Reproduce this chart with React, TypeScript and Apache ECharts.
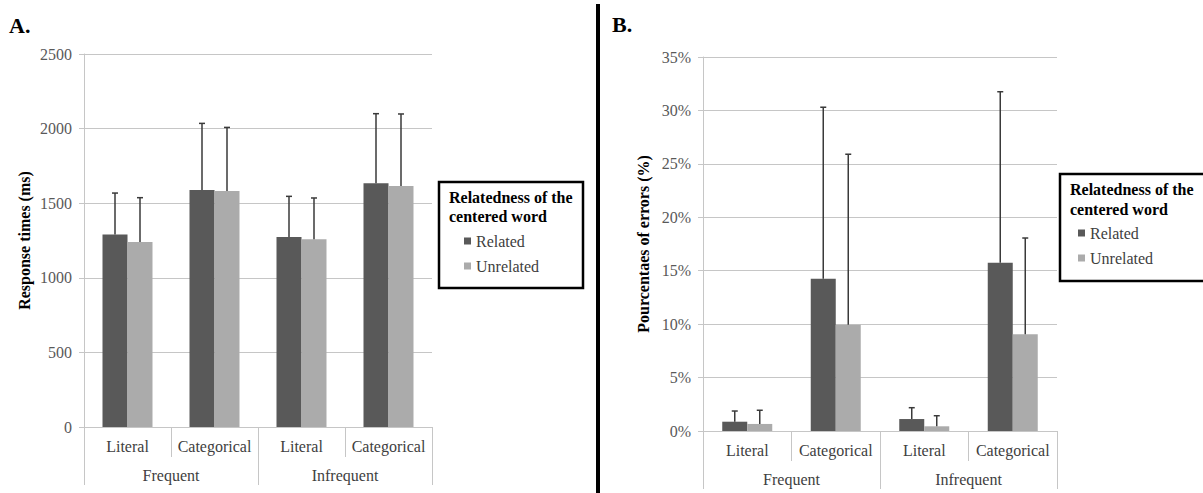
import React, { useEffect, useRef } from "react";
import * as echarts from "echarts";

const categories = ["Literal", "Categorical", "Literal", "Categorical"];
const groups = ["Frequent", "Infrequent"];
const seriesNames = ["Related", "Unrelated"];

// Panel A: response times (ms)
const rtRelated = [1291, 1588, 1273, 1633];
const rtUnrelated = [1240, 1582, 1258, 1615];
const rtRelatedErrTop = [1568, 2035, 1546, 2100];
const rtUnrelatedErrTop = [1537, 2008, 1535, 2098];

// Panel B: percentage of errors (%)
const errRelated = [0.87, 14.25, 1.12, 15.75];
const errUnrelated = [0.66, 9.95, 0.44, 9.05];
const errRelatedErrTop = [1.87, 30.3, 2.18, 31.75];
const errUnrelatedErrTop = [1.94, 25.9, 1.43, 18.06];

const SERIF = "Liberation Serif";
const DARK = "#595959";
const LIGHT = "#ababab";
const GRID = "#c6c6c6";
const TXT = "#404040";

export default function App() {
  const ref = useRef<HTMLDivElement>(null);

  useEffect(() => {
    if (!ref.current) return;
    const chart = echarts.init(ref.current, undefined, { renderer: "svg" });

    const errSeries = (
      name: string,
      gi: number,
      vals: number[],
      tops: number[],
      off: number
    ) => ({
      type: "custom",
      name,
      xAxisIndex: gi * 2,
      yAxisIndex: gi,
      z: 5,
      silent: true,
      encode: { x: 0, y: [1, 2] },
      data: vals.map((v, i) => [i, v, tops[i]]),
      renderItem: (params: any, api: any) => {
        const x = api.value(0);
        const p0 = api.coord([x, api.value(1)]);
        const p1 = api.coord([x, api.value(2)]);
        const cx = p0[0] + off;
        const st = { stroke: "#3a3a3a", lineWidth: 1.5 };
        return {
          type: "group",
          children: [
            { type: "line", shape: { x1: cx, y1: p0[1], x2: cx, y2: p1[1] }, style: st },
            { type: "line", shape: { x1: cx - 3, y1: p1[1], x2: cx + 3, y2: p1[1] }, style: st },
          ],
        };
      },
    });

    const catAxis = (gi: number) => ({
      type: "category",
      gridIndex: gi,
      position: "bottom",
      data: categories,
      axisLine: { show: true, lineStyle: { color: GRID, width: 1 } },
      axisTick: { show: true, length: 30, interval: 0, lineStyle: { color: GRID } },
      axisLabel: { margin: 11, fontSize: 16, fontFamily: SERIF, color: TXT, interval: 0 },
      splitLine: { show: false },
    });
    const groupAxis = (gi: number) => ({
      type: "category",
      gridIndex: gi,
      position: "bottom",
      data: groups,
      axisLine: { show: false },
      axisTick: { show: true, length: 58, interval: 0, lineStyle: { color: GRID } },
      axisLabel: { margin: 40, fontSize: 16, fontFamily: SERIF, color: TXT, interval: 0 },
      splitLine: { show: false },
    });
    const valAxis = (gi: number, max: number, interval: number, name: string, fmt: any) => ({
      type: "value",
      gridIndex: gi,
      min: 0,
      max,
      interval,
      name,
      nameLocation: "middle",
      nameRotate: 90,
      nameGap: 52,
      nameTextStyle: { fontSize: 16, fontWeight: "bold", fontFamily: SERIF, color: "#000" },
      axisLine: { show: true, lineStyle: { color: GRID } },
      axisTick: { show: true, length: 5, lineStyle: { color: GRID } },
      axisLabel: { margin: 12, fontSize: 16, fontFamily: SERIF, color: "#595959", formatter: fmt },
      splitLine: { show: true, lineStyle: { color: GRID, width: 1 } },
    });

    const barSeries = (name: string, gi: number, data: number[], color: string) => ({
      type: "bar",
      name,
      xAxisIndex: gi * 2,
      yAxisIndex: gi,
      data,
      barWidth: 25,
      barGap: "0%",
      itemStyle: { color },
    });

    const legend = (left: number, top: number) => ({
      data: seriesNames,
      orient: "vertical",
      left,
      top,
      padding: 0,
      itemGap: 9,
      itemWidth: 7,
      itemHeight: 7,
      icon: "rect",
      selectedMode: false,
      textStyle: { fontSize: 16, fontFamily: SERIF, color: TXT, padding: [0, 0, 0, 0] },
    });

    const titleFont = { fontSize: 16, fontWeight: "bold", fontFamily: SERIF, fill: "#000" };

    chart.setOption({
      animation: false,
      backgroundColor: "#ffffff",
      grid: [
        { left: 84, top: 54, width: 348, height: 373, containLabel: false },
        { left: 703, top: 57, width: 354, height: 374, containLabel: false },
      ],
      xAxis: [catAxis(0), groupAxis(0), catAxis(1), groupAxis(1)],
      yAxis: [
        valAxis(0, 2500, 500, "Response times (ms)", (v: number) => String(v)),
        valAxis(1, 35, 5, "Pourcentaes of errors (%)", (v: number) => v + "%"),
      ],
      legend: [legend(464, 233), legend(1078, 225)],
      series: [
        barSeries("Related", 0, rtRelated, DARK),
        barSeries("Unrelated", 0, rtUnrelated, LIGHT),
        barSeries("Related", 1, errRelated, DARK),
        barSeries("Unrelated", 1, errUnrelated, LIGHT),
        errSeries("errA1", 0, rtRelated, rtRelatedErrTop, -12.5),
        errSeries("errA2", 0, rtUnrelated, rtUnrelatedErrTop, 12.5),
        errSeries("errB1", 1, errRelated, errRelatedErrTop, -12.5),
        errSeries("errB2", 1, errUnrelated, errUnrelatedErrTop, 12.5),
      ],
      graphic: [
        { type: "text", left: 9, top: 14, style: { text: "A.", fontSize: 22, fontWeight: "bold", fontFamily: SERIF, fill: "#000" } },
        { type: "text", left: 612, top: 13, style: { text: "B.", fontSize: 22, fontWeight: "bold", fontFamily: SERIF, fill: "#000" } },
        { type: "rect", shape: { x: 596, y: 4, width: 4, height: 489 }, style: { fill: "#000" } },
        { type: "rect", shape: { x: 439, y: 182, width: 144, height: 106 }, style: { fill: "none", stroke: "#000", lineWidth: 2.5 } },
        { type: "text", x: 449, y: 197, style: { text: "Relatedness of the", ...titleFont, verticalAlign: "middle" } },
        { type: "text", x: 449, y: 216, style: { text: "centered word", ...titleFont, verticalAlign: "middle" } },
        { type: "rect", shape: { x: 1060, y: 174, width: 160, height: 107 }, style: { fill: "none", stroke: "#000", lineWidth: 2.5 } },
        { type: "text", x: 1070, y: 189, style: { text: "Relatedness of the", ...titleFont, verticalAlign: "middle" } },
        { type: "text", x: 1070, y: 209, style: { text: "centered word", ...titleFont, verticalAlign: "middle" } },
      ],
    });

    return () => chart.dispose();
  }, []);

  return (
    <div
      ref={ref}
      style={{ position: "fixed", left: 0, top: 0, width: 1203, height: 493, background: "#fff" }}
    />
  );
}
